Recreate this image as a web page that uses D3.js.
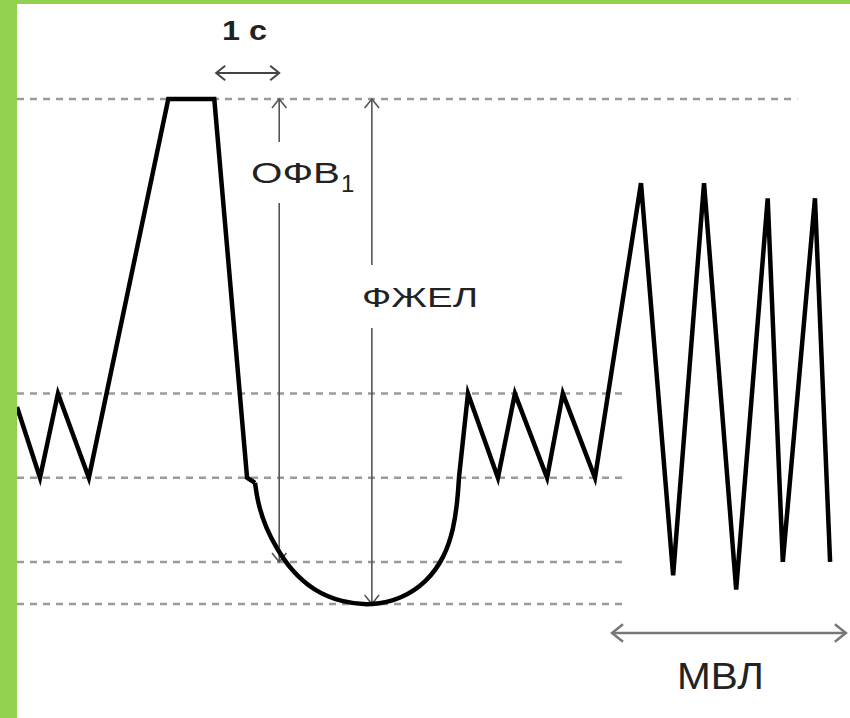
<!DOCTYPE html>
<html>
<head>
<meta charset="utf-8">
<script src="https://cdn.jsdelivr.net/npm/d3@7"></script>
<style>
  body { margin: 0; background: #ffffff; }
  svg { display: block; font-family: "Liberation Sans", Arial, sans-serif; }
</style>
</head>
<body>
<div id="mydiv"></div>
<script>
const width = 850,
  height = 718,
  frame = 17;

// time (s) and volume (l)
const tidalStart = [
  { t: 0, v: 2.34 },
  { t: 0.365, v: 1.5 },
  { t: 0.65, v: 2.5 },
  { t: 1.14, v: 1.5 },
  { t: 2.4, v: 6 },
  { t: 3.13, v: 6 },
  { t: 3.65, v: 1.5 },
  { t: 3.776, v: 1.44 },
];

const forcedExp = [
  { t: 3.776, v: 1.44 },
  { t: 3.82, v: 1.2 },
  { t: 3.95, v: 0.9 },
  { t: 4.12, v: 0.66 },
  { t: 4.35, v: 0.4 },
  { t: 4.7, v: 0.16 },
  { t: 5.15, v: 0.02 },
  { t: 5.63, v: -0.02 },
  { t: 6.1, v: 0.06 },
  { t: 6.5, v: 0.26 },
  { t: 6.78, v: 0.55 },
  { t: 6.93, v: 0.9 },
  { t: 6.99, v: 1.24 },
  { t: 7.013, v: 1.51 },
];

const tidalEnd = [
  { t: 7.013, v: 1.51 },
  { t: 7.155, v: 2.5 },
  { t: 7.63, v: 1.5 },
  { t: 7.9, v: 2.5 },
  { t: 8.41, v: 1.5 },
  { t: 8.66, v: 2.5 },
  { t: 9.17, v: 1.5 },
  // maximal voluntary ventilation
  { t: 9.9, v: 5.0 },
  { t: 10.41, v: 0.34 },
  { t: 10.9, v: 5.0 },
  { t: 11.41, v: 0.17 },
  { t: 11.91, v: 4.82 },
  { t: 12.15, v: 0.5 },
  { t: 12.66, v: 4.82 },
  { t: 12.9, v: 0.5 },
];

// dashed volume levels and where they stop
const levels = [
  { v: 6, end: 12.38 },
  { v: 2.5, end: 9.6 },
  { v: 1.5, end: 9.63 },
  { v: 0.5, end: 9.68 },
  { v: 0, end: 9.68 },
];

// labelled arrows
const oneSecond = { t0: 3.16, t1: 4.16 };
const fev1 = { t: 4.16, top: 6, bottom: 0.5 };
const fvc = { t: 5.63, top: 6, bottom: 0 };
const mvv = { t0: 9.44, t1: 13.15 };

const xScale = d3.scaleLinear().domain([0, 13.2]).range([frame, 849]);
const yScale = d3.scaleLinear().domain([0, 6]).range([604, 99]);

const svg = d3
  .select("#mydiv")
  .append("svg")
  .attr("width", width)
  .attr("height", height);

svg.append("rect").attr("width", width).attr("height", height).attr("fill", "#ffffff");

//Dashed levels
svg
  .append("g")
  .selectAll("line")
  .data(levels)
  .enter()
  .append("line")
  .attr("x1", xScale(0))
  .attr("x2", (d) => xScale(d.end))
  .attr("y1", (d) => yScale(d.v))
  .attr("y2", (d) => yScale(d.v))
  .attr("stroke", "#9a9a9a")
  .attr("stroke-width", 2.5)
  .attr("stroke-dasharray", "7,6");

//Arrow helpers
function chevron(g, x, y, dir, size, color, sw) {
  // dir: "up", "down", "left", "right"
  let p;
  if (dir == "up") p = [[x - size * 0.8, y + size], [x, y], [x + size * 0.8, y + size]];
  if (dir == "down") p = [[x - size * 0.8, y - size], [x, y], [x + size * 0.8, y - size]];
  if (dir == "left") p = [[x + size, y - size * 0.8], [x, y], [x + size, y + size * 0.8]];
  if (dir == "right") p = [[x - size, y - size * 0.8], [x, y], [x - size, y + size * 0.8]];
  g.append("path")
    .attr("d", d3.line()(p))
    .attr("fill", "none")
    .attr("stroke", color)
    .attr("stroke-width", sw);
}

function hArrow(x0, x1, y, color, sw, size) {
  const g = svg.append("g");
  g.append("line")
    .attr("x1", x0).attr("x2", x1).attr("y1", y).attr("y2", y)
    .attr("stroke", color).attr("stroke-width", sw);
  chevron(g, x0, y, "left", size, color, sw);
  chevron(g, x1, y, "right", size, color, sw);
}

function vArrow(x, y0, y1, gap0, gap1, color, sw) {
  const g = svg.append("g");
  g.append("line")
    .attr("x1", x).attr("x2", x).attr("y1", y0).attr("y2", gap0)
    .attr("stroke", color).attr("stroke-width", sw);
  g.append("line")
    .attr("x1", x).attr("x2", x).attr("y1", gap1).attr("y2", y1)
    .attr("stroke", color).attr("stroke-width", sw);
  chevron(g, x, y0, "up", 9, color, sw);
  chevron(g, x, y1, "down", 9, color, sw);
}

// 1 second
hArrow(xScale(oneSecond.t0), xScale(oneSecond.t1), 73, "#444", 2, 9);
svg.append("text")
  .attr("x", 222).attr("y", 40)
  .attr("font-size", 28).attr("font-weight", "bold").attr("fill", "#222")
  .attr("textLength", 45).attr("lengthAdjust", "spacingAndGlyphs")
  .text("1 с");

// FEV1
vArrow(xScale(fev1.t), yScale(fev1.top), yScale(fev1.bottom), 142, 203, "#555", 1.6);
const fevText = svg.append("text")
  .attr("x", 251).attr("y", 183)
  .attr("font-size", 29).attr("fill", "#222");
fevText.append("tspan")
  .attr("textLength", 89).attr("lengthAdjust", "spacingAndGlyphs")
  .text("ОФВ");
fevText.append("tspan")
  .attr("font-size", 24).attr("dy", 9).attr("dx", 1)
  .text("1");

// FVC
vArrow(xScale(fvc.t), yScale(fvc.top), yScale(fvc.bottom), 265, 328, "#555", 1.6);
svg.append("text")
  .attr("x", 362).attr("y", 307)
  .attr("font-size", 28).attr("fill", "#222")
  .attr("textLength", 116).attr("lengthAdjust", "spacingAndGlyphs")
  .text("ФЖЕЛ");

// MVV
hArrow(xScale(mvv.t0), xScale(mvv.t1), 633, "#777", 2.5, 11);
svg.append("text")
  .attr("x", 677).attr("y", 689)
  .attr("font-size", 36).attr("fill", "#222")
  .attr("textLength", 87).attr("lengthAdjust", "spacingAndGlyphs")
  .text("МВЛ");

//Spirogram
const straight = d3.line().x((d) => xScale(d.t)).y((d) => yScale(d.v));
const smooth = d3.line().curve(d3.curveBasis).x((d) => xScale(d.t)).y((d) => yScale(d.v));

[straight(tidalStart), smooth(forcedExp), straight(tidalEnd)].forEach((d) => {
  svg.append("path")
    .attr("d", d)
    .attr("fill", "none")
    .attr("stroke", "#000")
    .attr("stroke-width", 4.5)
    .attr("stroke-linejoin", "miter")
    .attr("stroke-miterlimit", 6);
});

//Green frame
svg.append("rect").attr("x", 0).attr("y", 0).attr("width", frame).attr("height", height).attr("fill", "#92d050");
svg.append("rect").attr("x", 0).attr("y", 0).attr("width", width).attr("height", 4).attr("fill", "#92d050");
</script>
</body>
</html>
